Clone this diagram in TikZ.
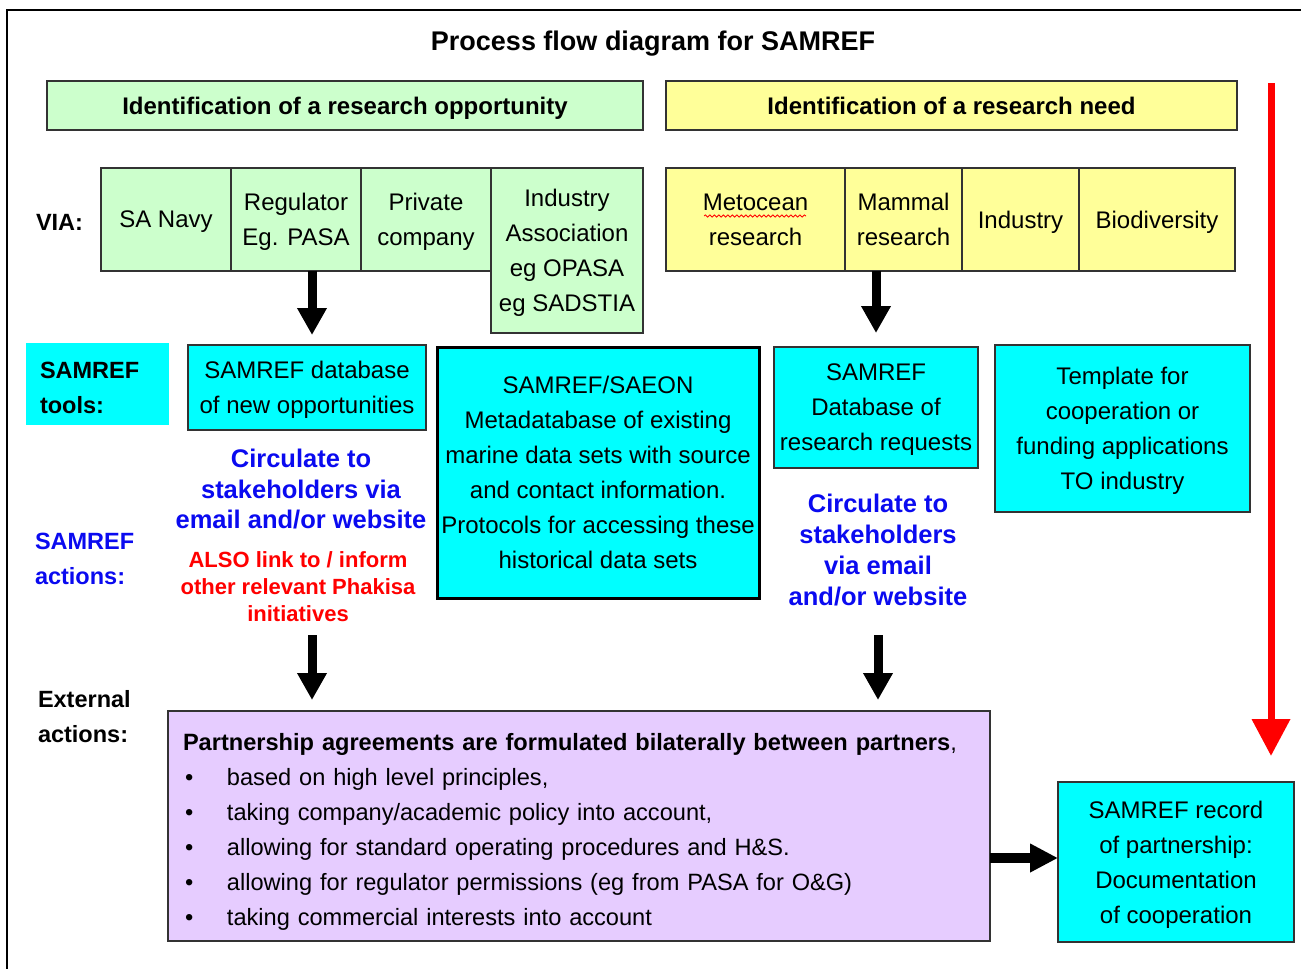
\documentclass[tikz,border=0pt]{standalone}
\usepackage{fontspec}
\setmainfont{Liberation Sans}
\usetikzlibrary{arrows.meta,decorations.pathmorphing}
\definecolor{gfill}{HTML}{CCFFCC}
\definecolor{yfill}{HTML}{FFFF99}
\definecolor{cfill}{HTML}{00FFFF}
\definecolor{pfill}{HTML}{E6CCFF}
\definecolor{bord}{HTML}{333333}
\definecolor{tblue}{HTML}{0A0AF0}
\definecolor{tred}{HTML}{FF0000}
\newcommand\fnorm{\fontsize{24pt}{35pt}\selectfont}
\newcommand\fpart{\fontsize{23.6pt}{35pt}\selectfont}
\newcommand\fhead{\fontsize{24pt}{29pt}\selectfont\bfseries}
\newcommand\ftitle{\fontsize{27pt}{32pt}\selectfont\bfseries}
\newcommand\flab{\fontsize{23.5pt}{35pt}\selectfont\bfseries}
\newcommand\fblue{\fontsize{25.5pt}{30.5pt}\selectfont\bfseries}
\newcommand\fbluer{\fontsize{25.5pt}{31.3pt}\selectfont\bfseries}
\newcommand\fred{\fontsize{22pt}{27pt}\selectfont\bfseries}
\newcommand\blt{\makebox[44pt][l]{\hspace{2pt}\textbullet}}
\begin{document}
\begin{tikzpicture}[x=1pt,y=-1pt,
  every node/.style={inner sep=0pt,outer sep=0pt},
  box/.style={draw=bord,line width=1.6pt,align=center,font=\fnorm,text depth=0pt},
  gbox/.style={box,fill=gfill},
  ybox/.style={box,fill=yfill},
  cbox/.style={box,fill=cfill},
  hbox/.style={draw=bord,line width=1.6pt,align=center,font=\fhead,text depth=0pt},
  lab/.style={align=left,font=\flab},
  bigarrow/.style={line width=9pt,-{Triangle[length=27pt 0 0,width=28pt 0 0]}},
  redarrow/.style={tred,line width=7pt,-{Triangle[length=37pt 0 0,width=37pt 0 0]}},
  sidearrow/.style={line width=10pt,-{Triangle[length=28pt 0 0,width=27pt 0 0]}}
]
\useasboundingbox (0,0) rectangle (1301,969);
\fill[white] (0,0) rectangle (1301,969);
% frame
\draw[line width=2pt] (7,969) -- (7,10) -- (1301,10);

% title
\node[font=\ftitle] (title) at (653,44) {Process flow diagram for SAMREF};

% headers
\node[hbox,fill=gfill,minimum width=596,minimum height=49] (ghead) at (345,105.5) {Identification of a research opportunity};
\node[hbox,fill=yfill,minimum width=571,minimum height=49] (yhead) at (951.5,105.5) {Identification of a research need};

% VIA row
\node[lab,anchor=west] (via) at (36,222) {VIA:};
\node[gbox,minimum width=130,minimum height=103] (navy) at (166,219.5) {SA Navy};
\node[gbox,minimum width=130,minimum height=103] (reg) at (296,219.5) {Regulator\\Eg. PASA};
\node[gbox,minimum width=130,minimum height=103] (priv) at (426,219.5) {Private\\company};
\node[gbox,minimum width=152,minimum height=165] (indas) at (567,250.5) {Industry\\Association\\eg OPASA\\eg SADSTIA};

\node[ybox,minimum width=179,minimum height=103] (meto) at (755.5,219.5) {Metocean\\research};
\node[ybox,minimum width=117,minimum height=103] (mamm) at (903.5,219.5) {Mammal\\research};
\node[ybox,minimum width=117,minimum height=103] (indy) at (1020.5,219.5) {Industry};
\node[ybox,minimum width=156,minimum height=103] (bio) at (1157,219.5) {Biodiversity};
\draw[tred,line width=0.8pt,decorate,decoration={snake,amplitude=1.1pt,segment length=4.5pt}] (704,216) -- (806,216);

% tools row
\node[fill=cfill,minimum width=143,minimum height=82] (toolsbg) at (97.5,384) {};
\node[lab,anchor=west] (tools) at (40,387.5) {SAMREF\\tools:};
\node[cbox,minimum width=238,minimum height=85] (db) at (307,387.5) {SAMREF database\\of new opportunities};
\node[cbox,draw=black,line width=3pt,minimum width=322,minimum height=251] (saeon) at (598,472.5) {SAMREF/SAEON\\Metadatabase of existing\\marine data sets with source\\and contact information.\\Protocols for accessing these\\historical data sets};
\node[cbox,minimum width=204,minimum height=121] (req) at (876,407.5) {SAMREF\\Database of\\research requests};
\node[cbox,minimum width=255,minimum height=167] (tmpl) at (1122.5,428.5) {Template for\\cooperation or\\funding applications\\TO industry};

% actions
\node[lab,text=tblue,anchor=west] (actions) at (35,558.5) {SAMREF\\actions:};
\node[align=center,font=\fblue,text=tblue] (circl) at (301,489.5) {Circulate to\\stakeholders via\\email and/or website};
\node[align=center,font=\fred,text=tred] (also) at (298,587) {ALSO link to / inform\\other relevant Phakisa\\initiatives};
\node[align=center,font=\fbluer,text=tblue] (circr) at (878,550) {Circulate to\\stakeholders\\via email\\and/or website};

% external
\node[lab,anchor=west] (ext) at (38,716.5) {External\\actions:};
\node[draw=bord,line width=1.6pt,fill=pfill,minimum width=822,minimum height=230] (part) at (579,826) {};
\node[align=left,text width=792pt,font=\fpart] (parttext) at (579,831.5)
 {\textbf{Partnership agreements are formulated bilaterally between partners},\\
  \blt based on high level principles,\\
  \blt taking company/academic policy into account,\\
  \blt allowing for standard operating procedures and H\&S.\\
  \blt allowing for regulator permissions (eg from PASA for O\&G)\\
  \blt taking commercial interests into account};
\node[cbox,minimum width=236,minimum height=160] (rec) at (1176,862) {SAMREF record\\of partnership:\\Documentation\\of cooperation};

% connectors
\coordinate (a1x) at (312,0);
\coordinate (a3s) at (312,635);
\coordinate (a4s) at (878,635);
\coordinate (r1) at (1271,83);
\coordinate (r2) at (1271,756);
\coordinate (a5) at (990,858);
\draw[bigarrow,shorten >=10pt] (reg.south -| a1x) -- (a1x |- db.north);
\draw[bigarrow,shorten >=14pt] (mamm.south -| req.north) -- (req.north);
\draw[bigarrow,shorten >=11pt] (a3s) -- (a3s |- part.north);
\draw[bigarrow,shorten >=11pt] (a4s) -- (a4s |- part.north);
\draw[redarrow] (r1) -- (r2);
\draw[sidearrow] (a5) -- (a5 -| rec.west);
\end{tikzpicture}
\end{document}
